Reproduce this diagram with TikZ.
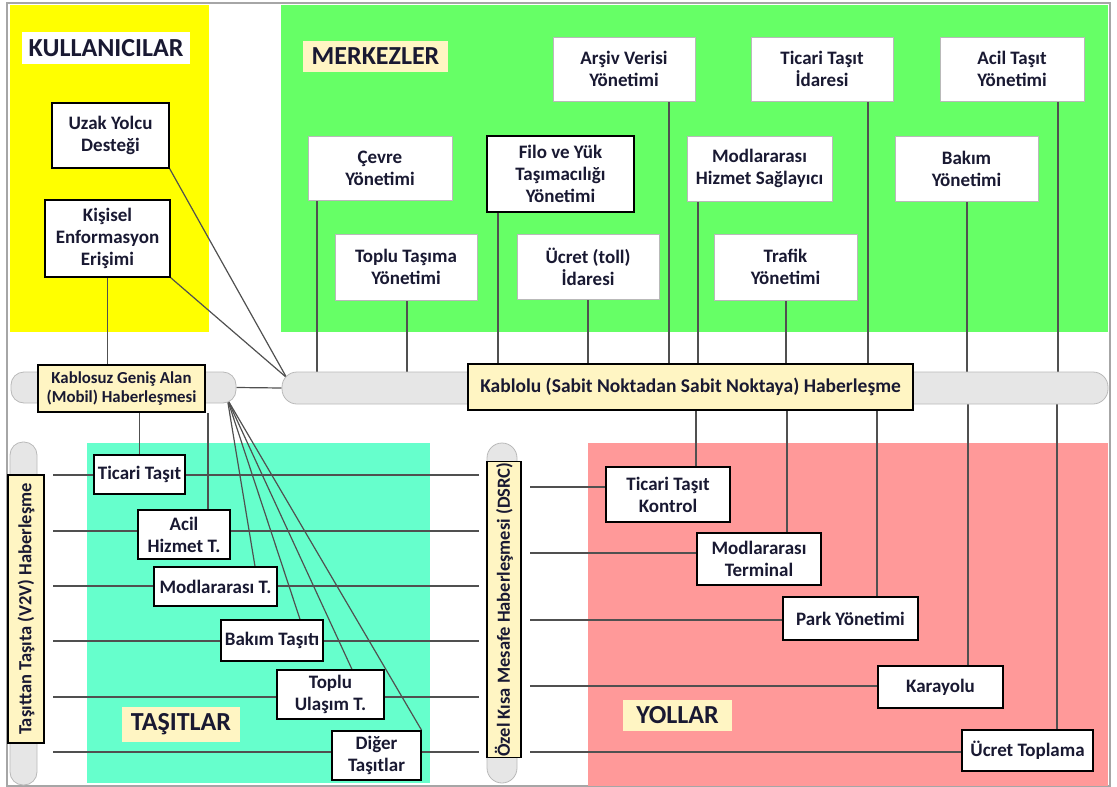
\documentclass[tikz,border=0pt]{standalone}
\usepackage{fontspec}
\setmainfont{Carlito}
\usetikzlibrary{calc}
\pgfdeclarelayer{background}
\pgfsetlayers{background,main}
\definecolor{kullanicisari}{RGB}{255,255,0}
\definecolor{merkezyesil}{RGB}{102,255,102}
\definecolor{tasitturkuaz}{RGB}{102,255,204}
\definecolor{yolpembe}{RGB}{255,153,153}
\definecolor{etiketsari}{RGB}{255,245,195}
\definecolor{hatgri}{RGB}{80,80,80}
\definecolor{yoluzgri}{RGB}{230,230,230}
\definecolor{metin}{RGB}{25,25,50}
\newcommand{\kutuyazi}{\fontsize{19}{22}\selectfont\bfseries}
\newcommand{\baslikyazi}{\fontsize{26}{30}\selectfont\bfseries}
\newcommand{\bantyazi}{\fontsize{19.5}{21}\selectfont\bfseries}
\newcommand{\kablosuzyazi}{\fontsize{16.8}{19}\selectfont\bfseries}
\newcommand{\dikeyyazi}{\fontsize{18.5}{20}\selectfont\bfseries}

\begin{document}
\begin{tikzpicture}[x=1pt,y=-1pt,
    kutu/.style={draw=black,line width=1.3pt,fill=white,text=metin,align=center,font=\kutuyazi,inner sep=2pt},
    mkutu/.style={kutu,draw=gray!55,line width=0.8pt},
    baslik/.style={text=metin,font=\baslikyazi,inner sep=2pt},
    etiket/.style={draw=black,line width=1.3pt,fill=etiketsari,text=metin,align=center,inner sep=1pt},
    yol/.style={draw=gray!55,fill=yoluzgri,line width=0.8pt,rounded corners=13pt},
    hat/.style={hatgri,line width=1.2pt}]
  \useasboundingbox (0,0) rectangle (1117,787);

  % kullanicilar
  \node[baslik,fill=white,minimum width=168,minimum height=32] (kullanicilar) at (106,48) {KULLANICILAR};
  \node[kutu,minimum width=117,minimum height=65] (uzak) at (110.5,135.5) {Uzak Yolcu\\Desteği};
  \node[kutu,minimum width=125,minimum height=77] (kisisel) at (107.5,238.5) {Kişisel\\Enformasyon\\Erişimi};

  % merkezler
  \node[baslik,fill=etiketsari,minimum width=145,minimum height=31] (merkezler) at (375.5,56.5) {MERKEZLER};
  \node[mkutu,minimum width=142,minimum height=64] (arsiv) at (624,69) {Arşiv Verisi\\Yönetimi};
  \node[mkutu,minimum width=142,minimum height=64] (tidare) at (822,69) {Ticari Taşıt\\İdaresi};
  \node[mkutu,minimum width=144,minimum height=64] (aciltasit) at (1012,69) {Acil Taşıt\\Yönetimi};
  \node[mkutu,minimum width=144,minimum height=64] (cevre) at (380,168) {Çevre\\Yönetimi};
  \node[kutu,minimum width=147,minimum height=76] (filo) at (560.5,174) {Filo ve Yük\\Taşımacılığı\\Yönetimi};
  \node[mkutu,minimum width=145,minimum height=65] (mhizmet) at (759.5,168.5) {Modlararası\\Hizmet Sağlayıcı};
  \node[mkutu,minimum width=143,minimum height=65] (bakim) at (966.5,168.5) {Bakım\\Yönetimi};
  \node[mkutu,minimum width=142,minimum height=66] (toplutasima) at (406,267) {Toplu Taşıma\\Yönetimi};
  \node[mkutu,minimum width=142,minimum height=65] (ucrettoll) at (588,266.5) {Ücret (toll)\\İdaresi};
  \node[mkutu,minimum width=143,minimum height=66] (trafik) at (785.5,267) {Trafik\\Yönetimi};

  % haberlesme bantlari
  \node[yol,minimum width=225,minimum height=31] (wbus) at (123.5,387.5) {};
  \node[yol,minimum width=826,minimum height=32,rounded corners=15pt] (kbus) at (695,388) {};
  \node[etiket,font=\kablosuzyazi,minimum width=167,minimum height=47] (wlabel) at (121.5,388.5) {Kablosuz Geniş Alan\\(Mobil) Haberleşmesi};
  \node[etiket,font=\bantyazi,minimum width=445,minimum height=46] (klabel) at (690.5,387) {Kablolu (Sabit Noktadan Sabit Noktaya) Haberleşme};
  \node[yol,minimum width=27,minimum height=343] (v2vbar) at (23.5,613.5) {};
  \node[yol,minimum width=30,minimum height=340,rounded corners=15pt] (dsrcbar) at (502,613) {};
  \node[etiket,font=\dikeyyazi,rotate=90,minimum width=268,minimum height=36] (v2v) at (26,609) {Taşıttan Taşıta (V2V) Haberleşme};
  \node[etiket,font=\dikeyyazi,rotate=90,minimum width=293,minimum height=34] (dsrc) at (504,609.5) {Özel Kısa Mesafe Haberleşmesi (DSRC)};

  % tasitlar
  \node[baslik,fill=etiketsari,minimum width=118,minimum height=35] (tasitlar) at (181,724.5) {TAŞITLAR};
  \node[kutu,minimum width=91,minimum height=39] (tticari) at (139.5,474.5) {Ticari Taşıt};
  \node[kutu,minimum width=92,minimum height=49] (acilh) at (184,534.5) {Acil\\Hizmet T.};
  \node[kutu,minimum width=123,minimum height=39] (modt) at (215.5,586.5) {Modlararası T.};
  \node[kutu,minimum width=102,minimum height=41] (bakimt) at (272,640.5) {Bakım Taşıtı};
  \node[kutu,minimum width=107,minimum height=49] (toplut) at (330.5,694.5) {Toplu\\Ulaşım T.};
  \node[kutu,minimum width=89,minimum height=49] (diger) at (376.5,755.5) {Diğer\\Taşıtlar};

  % yollar
  \node[baslik,fill=etiketsari,minimum width=109,minimum height=31] (yollar) at (677.5,715.5) {YOLLAR};
  \node[kutu,minimum width=124,minimum height=55] (tkontrol) at (668,494.5) {Ticari Taşıt\\Kontrol};
  \node[kutu,minimum width=124,minimum height=52] (mterminal) at (759,559) {Modlararası\\Terminal};
  \node[kutu,minimum width=135,minimum height=43] (park) at (850.5,618.5) {Park Yönetimi};
  \node[kutu,minimum width=125,minimum height=42] (karayolu) at (940.5,687) {Karayolu};
  \node[kutu,minimum width=131,minimum height=41] (ucrettop) at (1027.5,750.5) {Ücret Toplama};

  \begin{pgfonlayer}{background}
    \draw[gray!70,line width=1.2pt] (7,3) rectangle (1110,786);
    \fill[kullanicisari] (10,5) rectangle (209,332);
    \fill[merkezyesil] (281,5) rectangle (1108,332);
    \fill[tasitturkuaz] (87,443) rectangle (430,783);
    \fill[yolpembe] (588,443) rectangle (1108,786);

    % merkezlerden kablolu banda
    \foreach \x/\n in {317/cevre,407/toplutasima,498/filo,588/ucrettoll,669/arsiv,698/mhizmet,786/trafik,868/tidare,967/bakim,1058/aciltasit}
      \draw[hat] (\n.south -| \x,0) -- (kbus.north -| \x,0);
    % kablolu banttan yollara
    \foreach \x/\n in {696/tkontrol,787/mterminal,877/park,968/karayolu,1057/ucrettop}
      \draw[hat] (kbus.south -| \x,0) -- (\n.north -| \x,0);

    \coordinate (kbusuc) at ([shift={(5,6)}]kbus.north west);
    \draw[hat] (uzak.south east) -- (kbusuc);
    \draw[hat] (kisisel.south east) -- (kbusuc);
    \draw[hat] (kisisel.south) -- (kisisel.south |- wlabel.north);
    \draw[hat] (wbus.east) -- (kbus.west);

    % kablosuz banttan tasitlara
    \draw[hat] (tticari.north) -- (tticari.north |- wlabel.south);
    \draw[hat] (acilh.north -| 208,0) -- (wlabel.south -| 208,0);
    \coordinate (yelpaze) at ([shift={(-9,-4)}]wbus.south east);
    \draw[hat] (yelpaze) -- (modt.north -| 255,0);
    \draw[hat] (yelpaze) -- (bakimt.north -| 300,0);
    \draw[hat] (yelpaze) -- (toplut.north -| 352,0);
    \draw[hat] (yelpaze) -- (diger.north east);

    % V2V ve DSRC hatlari
    \foreach \y in {475,531,586,641,697,752}
      \draw[hat] ($(v2vbar.east |- 0,\y)+(16,0)$) -- ($(dsrcbar.west |- 0,\y)+(-8,0)$);
    \foreach \y/\n in {487/tkontrol,553/mterminal,620/park,686/karayolu,752/ucrettop}
      \draw[hat] ($(dsrcbar.east |- 0,\y)+(13,0)$) -- (\n.west |- 0,\y);
  \end{pgfonlayer}
\end{tikzpicture}
\end{document}
